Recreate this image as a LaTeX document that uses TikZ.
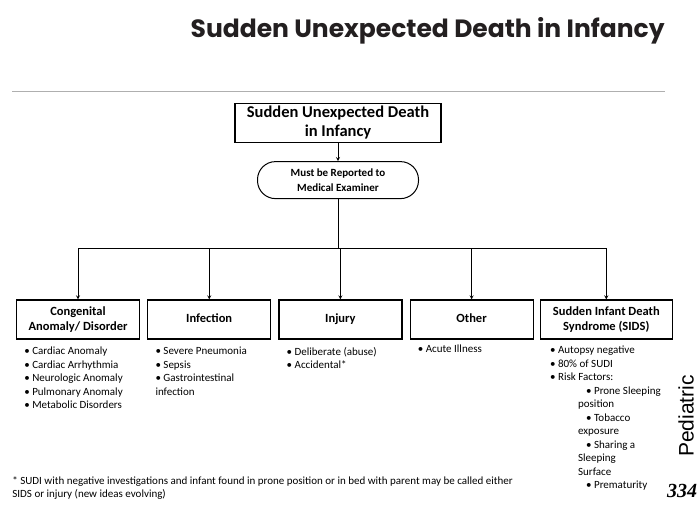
\documentclass[tikz,border=0pt]{standalone}
\usepackage{fontspec}
\setmainfont{Carlito}
\newfontfamily\headfont{Poppins}
\newfontfamily\sidefont{Liberation Sans}
\newfontfamily\pagefont{Liberation Serif}
\usetikzlibrary{positioning}
\definecolor{titleink}{RGB}{35,31,32}
\definecolor{rulegray}{RGB}{175,175,175}

\tikzset{
  catbox/.style={draw, line width=1.2pt, minimum width=123pt, minimum height=39pt, align=center, inner sep=1pt, font=\fontsize{12.5}{15.5}\selectfont\bfseries},
  oneline/.style={text height=9pt, text depth=3pt},
  itemlist/.style={align=left, inner sep=0pt, font=\fontsize{11}{13.5}\selectfont},
}

\begin{document}
\begin{tikzpicture}[x=1pt, y=-1pt, thick, >=stealth]
  \useasboundingbox (0,0) rectangle (700,509);

  \node[anchor=base east, inner sep=0pt, text=titleink, font=\headfont\bfseries\fontsize{25}{30}\selectfont] (title) at (665,37) {Sudden Unexpected Death in Infancy};
  \draw[rulegray, line width=1pt] (12,91) -- (665,91);

  \node[draw, line width=1.2pt, minimum width=206pt, minimum height=39pt, align=center, inner sep=1pt, font=\fontsize{16.5}{19}\selectfont\bfseries] (sudi) at (338,123) {Sudden Unexpected Death\\in Infancy};
  \node[draw, line width=1pt, rounded corners=18pt, minimum width=161pt, minimum height=37pt, align=center, inner sep=1pt, font=\fontsize{11}{15}\selectfont\bfseries, below=18pt of sudi] (report) {Must be Reported to\\Medical Examiner};
  \coordinate (split) at (338,248);

  \node[catbox] (congenital) at (78,319.5) {Congenital\\Anomaly/ Disorder};
  \node[catbox, oneline, right=7pt of congenital] (infection) {Infection};
  \node[catbox, oneline, right=7pt of infection] (injury) {Injury};
  \node[catbox, oneline, right=7pt of injury] (other) {Other};
  \node[catbox, minimum width=132pt, right=6pt of other] (sids) {Sudden Infant Death\\Syndrome (SIDS)};

  \draw[->] (sudi) -- (report);
  \draw (report) -- (split);
  \draw (split -| congenital) -- (split -| sids);
  \foreach \cat in {congenital, infection, injury, other, sids}
    \draw[->] (split -| \cat) -- (\cat);

  \node[itemlist, below right=7pt and 8pt of congenital.south west] (conglist) {%
    • Cardiac Anomaly\\• Cardiac Arrhythmia\\• Neurologic Anomaly\\• Pulmonary Anomaly\\• Metabolic Disorders};
  \node[itemlist, below right=7pt and 8pt of infection.south west] (inflist) {%
    • Severe Pneumonia\\• Sepsis\\• Gastrointestinal\\infection};
  \node[itemlist, below right=7pt and 8pt of injury.south west] (injlist) {%
    • Deliberate (abuse)\\• Accidental*};
  \node[itemlist, below right=5pt and 8pt of other.south west] (othlist) {%
    • Acute Illness};
  \node[itemlist, below right=6pt and 10pt of sids.south west] (sidslist) {%
    • Autopsy negative\\• 80\% of SUDI\\• Risk Factors:\\
    \hspace*{36pt}• Prone Sleeping\\\hspace*{28pt}position\\
    \hspace*{36pt}• Tobacco\\\hspace*{28pt}exposure\\
    \hspace*{36pt}• Sharing a\\\hspace*{28pt}Sleeping\\\hspace*{28pt}Surface\\
    \hspace*{36pt}• Prematurity};

  \node[anchor=north west, align=left, inner sep=0pt, font=\fontsize{11}{13}\selectfont] (note) at (12,476) {%
    * SUDI with negative investigations and infant found in prone position or in bed with parent may be called either\\SIDS or injury (new ideas evolving)};

  \node[rotate=90, font=\sidefont\fontsize{21}{24}\selectfont] (side) at (686,416) {Pediatric};
  \node[font=\pagefont\bfseries\itshape\fontsize{20}{24}\selectfont] (pagenum) at (682,491) {334};
\end{tikzpicture}
\end{document}
